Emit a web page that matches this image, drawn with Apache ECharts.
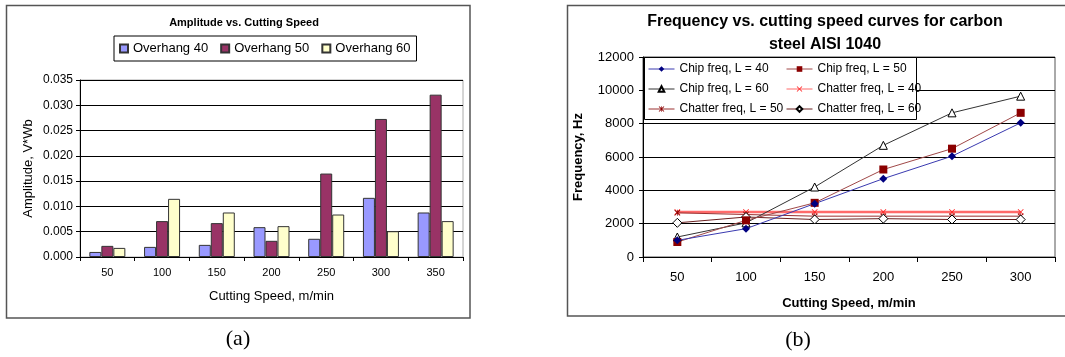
<!DOCTYPE html>
<html>
<head>
<meta charset="utf-8">
<script src="https://cdn.jsdelivr.net/npm/echarts@6/dist/echarts.min.js"></script>
<style>
  html, body { margin: 0; padding: 0; background: #ffffff; }
  #chart { width: 1065px; height: 357px; }
</style>
</head>
<body>
<div id="chart"></div>
<script>
// (a) Amplitude of vibration per cutting speed, three tool overhangs
const speedsA = ['50', '100', '150', '200', '250', '300', '350'];
const overhang40 = [0.0010, 0.0020, 0.0024, 0.0059, 0.0036, 0.0117, 0.0088];
const overhang50 = [0.0022, 0.0071, 0.0067, 0.0032, 0.0165, 0.0273, 0.0321];
const overhang60 = [0.0018, 0.0115, 0.0088, 0.0061, 0.0084, 0.0051, 0.0071];

// (b) Chip and chatter frequency (Hz) per cutting speed
const speedsB = ['50', '100', '150', '200', '250', '300'];
const chip40 = [1000, 1700, 3200, 4700, 6050, 8050];
const chip50 = [900, 2200, 3250, 5250, 6500, 8650];
const chip60 = [1200, 2050, 4200, 6700, 8650, 9650];
const chatter40 = [2700, 2700, 2700, 2700, 2700, 2700];
const chatter50 = [2650, 2550, 2450, 2450, 2450, 2450];
const chatter60 = [2050, 2400, 2250, 2300, 2250, 2250];

const FONT = "'Liberation Sans', Arial, sans-serif";
const SERIF = "'Liberation Serif', 'Times New Roman', serif";

const crossPath = 'path://M0,1 L1,0 L5,4 L9,0 L10,1 L6,5 L10,9 L9,10 L5,6 L1,10 L0,9 L4,5 Z';
const starPath = 'path://M0,1 L1,0 L4.4,3.4 L4.4,0 L5.6,0 L5.6,3.4 L9,0 L10,1 L6,5 L10,9 L9,10 L5.6,6.6 L5.6,10 L4.4,10 L4.4,6.6 L1,10 L0,9 L4,5 Z';

const chart = echarts.init(document.getElementById('chart'), null, { renderer: 'canvas' });

function barSeries(name, data, color) {
  return {
    name, type: 'bar', data, xAxisIndex: 0, yAxisIndex: 0,
    barWidth: 12, barGap: '0%',
    itemStyle: { color, borderColor: '#333333', borderWidth: 1 },
    emphasis: { disabled: true }
  };
}

function lineSeries(name, data, opts) {
  return Object.assign({
    name, type: 'line', data, xAxisIndex: 1, yAxisIndex: 1,
    showAllSymbol: true, animation: false,
    emphasis: { disabled: true }
  }, opts);
}

const freqLegend = {
  orient: 'vertical', top: 62,
  itemWidth: 26, itemHeight: 7, itemGap: 6, padding: 0,
  lineStyle: { width: 1 },
  textStyle: { fontFamily: FONT, fontSize: 12, color: '#000', lineHeight: 14 },
  selectedMode: false, z: 10
};

chart.setOption({
  animation: false,
  backgroundColor: '#ffffff',
  textStyle: { fontFamily: FONT, color: '#000' },
  title: [
    {
      text: 'Amplitude vs. Cutting Speed',
      left: 239, top: 12, textAlign: 'center',
      textStyle: { fontFamily: FONT, fontSize: 11, fontWeight: 'bold', color: '#000' }
    },
    {
      text: 'Frequency vs. cutting speed curves for carbon\nsteel AISI 1040',
      left: 820, top: 5, textAlign: 'center',
      textStyle: { fontFamily: FONT, fontSize: 16, fontWeight: 'bold', lineHeight: 23, color: '#000' }
    }
  ],
  legend: [
    {
      left: 114, top: 36,
      padding: [6, 6, 6, 5],
      borderColor: '#000', borderWidth: 1,
      itemWidth: 8, itemHeight: 8, itemGap: 12,
      icon: 'rect',
      data: ['Overhang 40', 'Overhang 50', 'Overhang 60'],
      textStyle: { fontFamily: FONT, fontSize: 13, color: '#000' },
      selectedMode: false
    },
    Object.assign({ left: 648, data: ['Chip freq, L = 40', 'Chip freq, L = 60', 'Chatter freq, L = 50'] }, freqLegend),
    Object.assign({ left: 786, data: ['Chip freq, L = 50', 'Chatter freq, L = 40', 'Chatter freq, L = 60'] }, freqLegend)
  ],
  grid: [
    { left: 80, top: 80, width: 383, height: 177, show: true, borderColor: '#aaaaaa', borderWidth: 1, backgroundColor: 'transparent' },
    { left: 643, top: 57, width: 412, height: 200, show: true, borderColor: '#555555', borderWidth: 1, backgroundColor: 'transparent' }
  ],
  xAxis: [
    {
      type: 'category', gridIndex: 0, data: speedsA, boundaryGap: true,
      name: 'Cutting Speed, m/min', nameLocation: 'middle', nameGap: 33,
      nameTextStyle: { fontFamily: FONT, fontSize: 13, color: '#000' },
      axisLine: { lineStyle: { color: '#000', width: 1 } },
      axisTick: { show: true, alignWithLabel: false, length: 4, lineStyle: { color: '#000' } },
      axisLabel: { fontFamily: FONT, fontSize: 11, color: '#000', margin: 10 },
      splitLine: { show: false }
    },
    {
      type: 'category', gridIndex: 1, data: speedsB, boundaryGap: true,
      name: 'Cutting Speed, m/min', nameLocation: 'middle', nameGap: 40,
      nameTextStyle: { fontFamily: FONT, fontSize: 13, fontWeight: 'bold', color: '#000' },
      axisLine: { lineStyle: { color: '#000', width: 1 } },
      axisTick: { show: true, alignWithLabel: false, length: 5, lineStyle: { color: '#000' } },
      axisLabel: { fontFamily: FONT, fontSize: 13, color: '#000', margin: 14 },
      splitLine: { show: false }
    }
  ],
  yAxis: [
    {
      type: 'value', gridIndex: 0, min: 0, max: 0.035, interval: 0.005,
      name: 'Amplitude, V*Wb', nameLocation: 'middle', nameGap: 45, nameRotate: 90,
      nameTextStyle: { fontFamily: FONT, fontSize: 13, color: '#000' },
      axisLine: { show: true, lineStyle: { color: '#000', width: 1 } },
      axisTick: { show: true, length: 4, lineStyle: { color: '#000' } },
      axisLabel: { fontFamily: FONT, fontSize: 12, color: '#000', margin: 7, formatter: v => v.toFixed(3) },
      splitLine: { show: true, lineStyle: { color: '#000', width: 1 } }
    },
    {
      type: 'value', gridIndex: 1, min: 0, max: 12000, interval: 2000,
      name: 'Frequency, Hz', nameLocation: 'middle', nameGap: 58, nameRotate: 90,
      nameTextStyle: { fontFamily: FONT, fontSize: 13, fontWeight: 'bold', color: '#000' },
      axisLine: { show: true, lineStyle: { color: '#000', width: 1 } },
      axisTick: { show: true, length: 4, lineStyle: { color: '#000' } },
      axisLabel: { fontFamily: FONT, fontSize: 13, color: '#000', margin: 9, formatter: v => String(v) },
      splitLine: { show: true, lineStyle: { color: '#000', width: 1 } }
    }
  ],
  graphic: [
    { type: 'rect', z: 0, silent: true,
      shape: { x: 6.5, y: 5.5, width: 463.5, height: 312.5 },
      style: { fill: 'none', stroke: '#555555', lineWidth: 1.5 } },
    { type: 'rect', z: 0, silent: true,
      shape: { x: 567.5, y: 5.5, width: 520, height: 310.5 },
      style: { fill: 'none', stroke: '#555555', lineWidth: 1.5 } },
    { type: 'rect', z: 5, silent: true,
      shape: { x: 644.5, y: 57.5, width: 272, height: 62 },
      style: { fill: '#ffffff', stroke: '#000000', lineWidth: 1 } },
    { type: 'text', z: 5, silent: true, x: 238, y: 339,
      style: { text: '(a)', font: '22px ' + SERIF, fill: '#000', align: 'center', verticalAlign: 'middle' } },
    { type: 'text', z: 5, silent: true, x: 798, y: 340,
      style: { text: '(b)', font: '22px ' + SERIF, fill: '#000', align: 'center', verticalAlign: 'middle' } }
  ],
  series: [
    barSeries('Overhang 40', overhang40, '#9999ff'),
    barSeries('Overhang 50', overhang50, '#993366'),
    barSeries('Overhang 60', overhang60, '#ffffcc'),
    lineSeries('Chatter freq, L = 40', chatter40, {
      symbol: crossPath, symbolSize: 6,
      lineStyle: { color: '#ff6a6a', width: 2.5 },
      itemStyle: { color: '#ff2020' }
    }),
    lineSeries('Chatter freq, L = 50', chatter50, {
      symbol: starPath, symbolSize: 6,
      lineStyle: { color: '#9a3030', width: 1 },
      itemStyle: { color: '#8b0000' }
    }),
    lineSeries('Chatter freq, L = 60', chatter60, {
      symbol: 'diamond', symbolSize: 9,
      lineStyle: { color: '#6a2020', width: 1 },
      itemStyle: { color: '#ffffff', borderColor: '#000000', borderWidth: 1 }
    }),
    lineSeries('Chip freq, L = 60', chip60, {
      symbol: 'triangle', symbolSize: 8,
      lineStyle: { color: '#333333', width: 1 },
      itemStyle: { color: '#ffffff', borderColor: '#000000', borderWidth: 1 }
    }),
    lineSeries('Chip freq, L = 50', chip50, {
      symbol: 'rect', symbolSize: 8,
      lineStyle: { color: '#a04848', width: 1 },
      itemStyle: { color: '#8b0000' }
    }),
    lineSeries('Chip freq, L = 40', chip40, {
      symbol: 'diamond', symbolSize: 8,
      lineStyle: { color: '#3a3ab0', width: 1 },
      itemStyle: { color: '#000080' }
    })
  ]
});
</script>
</body>
</html>
